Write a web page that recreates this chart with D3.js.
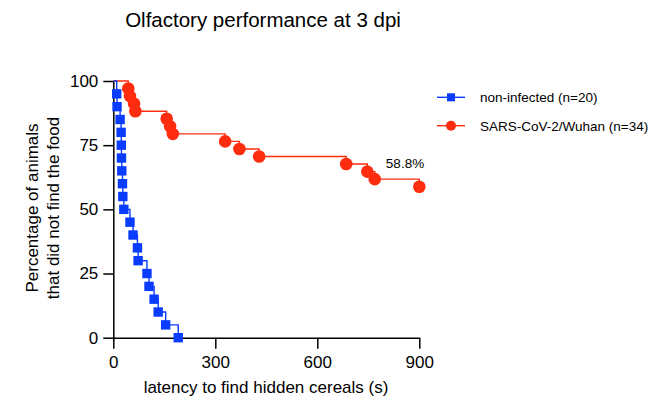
<!DOCTYPE html>
<html>
<head>
<meta charset="utf-8">
<script src="https://cdn.jsdelivr.net/npm/d3@7"></script>
<style>
  body { margin:0; background:#ffffff; }
  text { font-family: "Liberation Sans", Arial, sans-serif; fill:#000000; }
</style>
</head>
<body>
<div id="chart"></div>
<script>
//data
//non-infected : time of each event (s) and % remaining after it
var blue_times = [10, 11, 20, 23, 23.5, 24, 25, 27, 28, 31, 49, 58, 71, 73, 99, 105, 120, 132, 154, 191]
var blue_pct = [95, 90, 85, 80, 75, 70, 65, 60, 55, 50, 45, 40, 35, 30, 25, 20, 15, 10, 5, 0]
//SARS-CoV-2/Wuhan
var red_times = [44, 49, 61, 65, 157, 167, 175, 329, 371, 429, 685, 747, 769, 900]
var red_pct = [97.06, 94.12, 91.18, 88.24, 85.29, 82.35, 79.41, 76.47, 73.53, 70.59, 67.65, 64.71, 61.76, 58.82]

var x_ticks = [0, 300, 600, 900]
var y_ticks = [0, 25, 50, 75, 100]
var series_names = ["non-infected (n=20)", "SARS-CoV-2/Wuhan (n=34)"]
var end_label = "58.8%"

//initialization
var width = 660;
var height = 403;
var blue = "#0a3cff";
var red = "#ff2d0f";

var svg = d3.select("#chart")
  .append("svg")
  .attr("width", width)
  .attr("height", height)

var x = d3.scaleLinear().domain([0, 900]).range([113.3, 419.3])
var y = d3.scaleLinear().domain([0, 100]).range([337.7, 81])

//title
svg.append("text")
  .attr("x", 263).attr("y", 27)
  .attr("text-anchor", "middle")
  .style("font-size", "20.5px")
  .text("Olfactory performance at 3 dpi")

//axes
var x_axis = svg.append("g")
  .attr("transform", "translate(0," + y(0) + ")")
  .call(d3.axisBottom(x).tickValues(x_ticks).tickSize(11).tickSizeOuter(0).tickPadding(7))
var y_axis = svg.append("g")
  .attr("transform", "translate(" + x(0) + ",0)")
  .call(d3.axisLeft(y).tickValues(y_ticks).tickSize(10).tickSizeOuter(0).tickPadding(5))

svg.selectAll(".domain, .tick line")
  .style("stroke", "#000000")
  .style("stroke-width", 1.5)
svg.selectAll(".tick text")
  .style("font-size", "17px")
  .style("font-family", "'Liberation Sans', Arial, sans-serif")
  .style("fill", "#000000")

//axis titles
svg.append("text")
  .attr("x", 266).attr("y", 393)
  .attr("text-anchor", "middle")
  .style("font-size", "17px")
  .text("latency to find hidden cereals (s)")
svg.append("text")
  .attr("transform", "translate(38,208) rotate(-90)")
  .attr("text-anchor", "middle")
  .style("font-size", "17px")
  .text("Percentage of animals")
svg.append("text")
  .attr("transform", "translate(59,208) rotate(-90)")
  .attr("text-anchor", "middle")
  .style("font-size", "17px")
  .text("that did not find the food")

//function for drawing one kaplan-meier curve with markers
draw_curve = function(times, pct, color, shape){
  var pts = [[0, 100]]
  for(var i=0; i<times.length; i++){
    pts.push([times[i], pct[i]])
  }
  var line = d3.line()
    .x(function(d){return x(d[0]);})
    .y(function(d){return y(d[1]);})
    .curve(d3.curveStepAfter)
  svg.append("path")
    .attr("d", line(pts))
    .style("fill", "none")
    .style("stroke", color)
    .style("stroke-width", 1.4)
  var marks = pts.slice(1)
  if(shape == "square"){
    svg.append("g").selectAll("rect")
      .data(marks).enter()
      .append("rect")
      .attr("x", function(d){return x(d[0]) - 4.7;})
      .attr("y", function(d){return y(d[1]) - 4.7;})
      .attr("width", 9.4)
      .attr("height", 9.4)
      .style("fill", color)
  }else{
    svg.append("g").selectAll("circle")
      .data(marks).enter()
      .append("circle")
      .attr("cx", function(d){return x(d[0]);})
      .attr("cy", function(d){return y(d[1]);})
      .attr("r", 6.3)
      .style("fill", color)
  }
}

draw_curve(red_times, red_pct, red, "circle")
draw_curve(blue_times, blue_pct, blue, "square")

//end value label
svg.append("text")
  .attr("x", 405).attr("y", 168)
  .attr("text-anchor", "middle")
  .style("font-size", "13.5px")
  .text(end_label)

//legend
var legend_y = [97.3, 125.7]
var legend_col = [blue, red]
for(var k=0; k<2; k++){
  svg.append("line")
    .attr("x1", 437).attr("x2", 465)
    .attr("y1", legend_y[k]).attr("y2", legend_y[k])
    .style("stroke", legend_col[k])
    .style("stroke-width", 1.4)
  if(k == 0){
    svg.append("rect")
      .attr("x", 451 - 4).attr("y", legend_y[k] - 4)
      .attr("width", 8).attr("height", 8)
      .style("fill", legend_col[k])
  }else{
    svg.append("circle")
      .attr("cx", 451).attr("cy", legend_y[k])
      .attr("r", 5)
      .style("fill", legend_col[k])
  }
  svg.append("text")
    .attr("x", 480).attr("y", legend_y[k] + 5)
    .style("font-size", "13.5px")
    .text(series_names[k])
}
</script>
</body>
</html>
